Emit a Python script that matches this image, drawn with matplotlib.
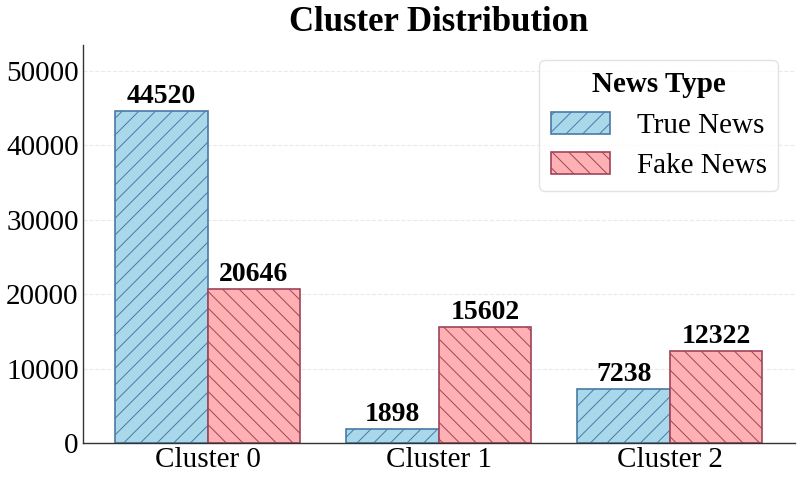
import matplotlib
matplotlib.use("Agg")
import matplotlib.pyplot as plt
import numpy as np

clusters = ["Cluster 0", "Cluster 1", "Cluster 2"]
true_news = [44520, 1898, 7238]
fake_news = [20646, 15602, 12322]
series_labels = ["True News", "Fake News"]

plt.rcParams['font.family'] = ['Liberation Serif', 'DejaVu Serif']
plt.rcParams['hatch.linewidth'] = 0.7

fig = plt.figure(figsize=(7.97, 4.79), dpi=100)
ax = fig.add_axes([0.104, 0.075, 0.893, 0.831])

x = np.arange(len(clusters))
w = 0.4
b1 = ax.bar(x - w/2, true_news, w, color='#a8d8ea', edgecolor='#4a7aa6', linewidth=1.2,
            hatch='//', label=series_labels[0])
b2 = ax.bar(x + w/2, fake_news, w, color='#ffb0b3', edgecolor='#a0435a', linewidth=1.2,
            hatch='\\\\', label=series_labels[1])

for bars in (b1, b2):
    for r in bars:
        ax.text(r.get_x() + r.get_width()/2, r.get_height() + 300, f"{int(r.get_height())}",
                ha='center', va='bottom', fontsize=20, fontweight='bold')

ax.set_ylim(0, max(true_news) * 1.2)
ax.set_xticks(x)
ax.set_xticklabels(clusters, fontsize=21)
ax.tick_params(axis='y', labelsize=21)
ax.tick_params(axis='both', length=0, pad=3)
ax.yaxis.grid(True, linestyle='--', color='#dddddd', alpha=0.6, linewidth=0.8)
ax.set_axisbelow(True)
for s in ['top', 'right']:
    ax.spines[s].set_visible(False)
for s in ['left', 'bottom']:
    ax.spines[s].set_color('#333333')
    ax.spines[s].set_linewidth(1.0)

ax.set_title("Cluster Distribution", fontsize=25, fontweight='bold', pad=10)
leg = ax.legend(title="News Type", fontsize=21, title_fontproperties={'weight': 'bold', 'size': 21},
                loc='upper right', handlelength=2.05, handleheight=0.8, handletextpad=0.9,
                borderpad=0.4, labelspacing=0.45, frameon=True, fancybox=True,
                bbox_to_anchor=(0.977, 0.963), borderaxespad=0)
leg.get_frame().set_edgecolor('#dddddd')

fig.savefig("out.png", dpi=100)
